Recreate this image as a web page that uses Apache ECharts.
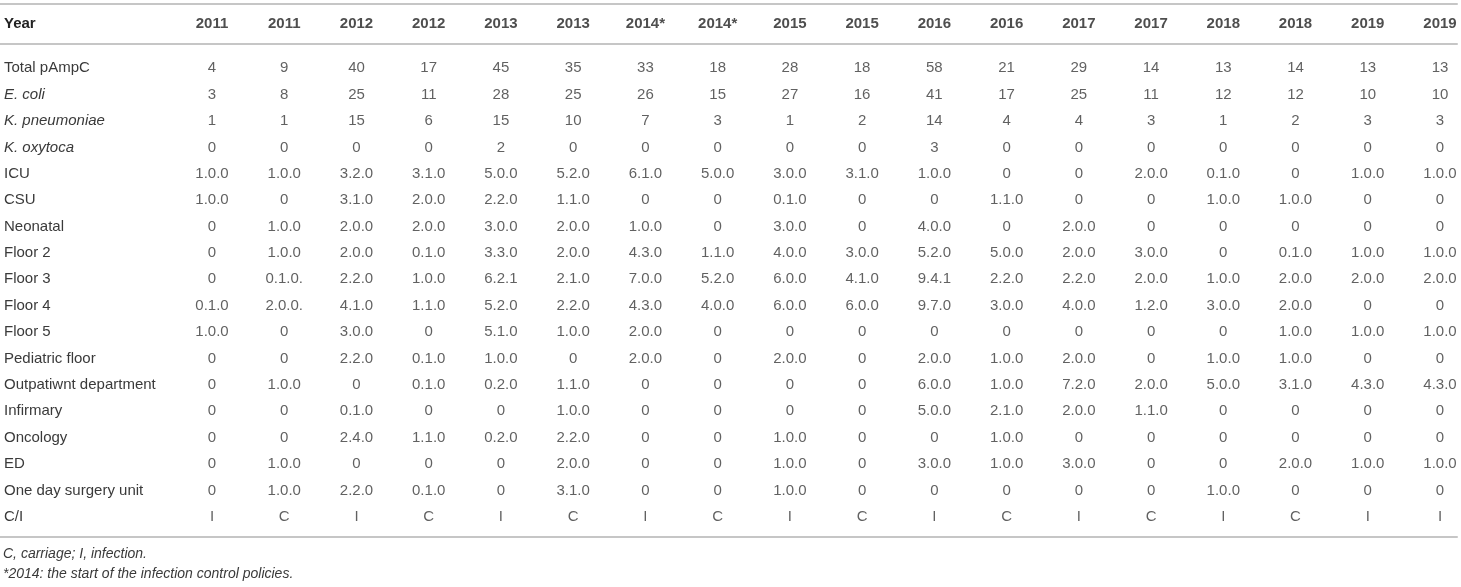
<!DOCTYPE html>
<html>
<head>
<meta charset="utf-8">
<title>pAmpC by ward and year</title>
<script src="https://cdn.jsdelivr.net/npm/echarts@6.0.0/dist/echarts.min.js"></script>
<style>
  html, body { margin: 0; padding: 0; background: #fff; }
  #chart { width: 1461px; height: 587px; }
</style>
</head>
<body>
<div id="chart"></div>
<script>
// column headers (two columns per year)
const columns = ['2011', '2011', '2012', '2012', '2013', '2013', '2014*', '2014*', '2015', '2015',
  '2016', '2016', '2017', '2017', '2018', '2018', '2019', '2019'];

const rowNames = ['Total pAmpC', 'E. coli', 'K. pneumoniae', 'K. oxytoca', 'ICU', 'CSU', 'Neonatal',
  'Floor 2', 'Floor 3', 'Floor 4', 'Floor 5', 'Pediatric floor', 'Outpatiwnt department',
  'Infirmary', 'Oncology', 'ED', 'One day surgery unit', 'C/I'];
const italicRows = ['E. coli', 'K. pneumoniae', 'K. oxytoca'];

// cell values, one array per row
const totalPAmpC = ['4', '9', '40', '17', '45', '35', '33', '18', '28', '18', '58', '21', '29', '14', '13', '14', '13', '13'];
const eColi = ['3', '8', '25', '11', '28', '25', '26', '15', '27', '16', '41', '17', '25', '11', '12', '12', '10', '10'];
const kPneumoniae = ['1', '1', '15', '6', '15', '10', '7', '3', '1', '2', '14', '4', '4', '3', '1', '2', '3', '3'];
const kOxytoca = ['0', '0', '0', '0', '2', '0', '0', '0', '0', '0', '3', '0', '0', '0', '0', '0', '0', '0'];
const icu = ['1.0.0', '1.0.0', '3.2.0', '3.1.0', '5.0.0', '5.2.0', '6.1.0', '5.0.0', '3.0.0', '3.1.0', '1.0.0', '0', '0', '2.0.0', '0.1.0', '0', '1.0.0', '1.0.0'];
const csu = ['1.0.0', '0', '3.1.0', '2.0.0', '2.2.0', '1.1.0', '0', '0', '0.1.0', '0', '0', '1.1.0', '0', '0', '1.0.0', '1.0.0', '0', '0'];
const neonatal = ['0', '1.0.0', '2.0.0', '2.0.0', '3.0.0', '2.0.0', '1.0.0', '0', '3.0.0', '0', '4.0.0', '0', '2.0.0', '0', '0', '0', '0', '0'];
const floor2 = ['0', '1.0.0', '2.0.0', '0.1.0', '3.3.0', '2.0.0', '4.3.0', '1.1.0', '4.0.0', '3.0.0', '5.2.0', '5.0.0', '2.0.0', '3.0.0', '0', '0.1.0', '1.0.0', '1.0.0'];
const floor3 = ['0', '0.1.0.', '2.2.0', '1.0.0', '6.2.1', '2.1.0', '7.0.0', '5.2.0', '6.0.0', '4.1.0', '9.4.1', '2.2.0', '2.2.0', '2.0.0', '1.0.0', '2.0.0', '2.0.0', '2.0.0'];
const floor4 = ['0.1.0', '2.0.0.', '4.1.0', '1.1.0', '5.2.0', '2.2.0', '4.3.0', '4.0.0', '6.0.0', '6.0.0', '9.7.0', '3.0.0', '4.0.0', '1.2.0', '3.0.0', '2.0.0', '0', '0'];
const floor5 = ['1.0.0', '0', '3.0.0', '0', '5.1.0', '1.0.0', '2.0.0', '0', '0', '0', '0', '0', '0', '0', '0', '1.0.0', '1.0.0', '1.0.0'];
const pediatric = ['0', '0', '2.2.0', '0.1.0', '1.0.0', '0', '2.0.0', '0', '2.0.0', '0', '2.0.0', '1.0.0', '2.0.0', '0', '1.0.0', '1.0.0', '0', '0'];
const outpatient = ['0', '1.0.0', '0', '0.1.0', '0.2.0', '1.1.0', '0', '0', '0', '0', '6.0.0', '1.0.0', '7.2.0', '2.0.0', '5.0.0', '3.1.0', '4.3.0', '4.3.0'];
const infirmary = ['0', '0', '0.1.0', '0', '0', '1.0.0', '0', '0', '0', '0', '5.0.0', '2.1.0', '2.0.0', '1.1.0', '0', '0', '0', '0'];
const oncology = ['0', '0', '2.4.0', '1.1.0', '0.2.0', '2.2.0', '0', '0', '1.0.0', '0', '0', '1.0.0', '0', '0', '0', '0', '0', '0'];
const ed = ['0', '1.0.0', '0', '0', '0', '2.0.0', '0', '0', '1.0.0', '0', '3.0.0', '1.0.0', '3.0.0', '0', '0', '2.0.0', '1.0.0', '1.0.0'];
const oneDaySurgery = ['0', '1.0.0', '2.2.0', '0.1.0', '0', '3.1.0', '0', '0', '1.0.0', '0', '0', '0', '0', '0', '1.0.0', '0', '0', '0'];
const carriageInfection = ['I', 'C', 'I', 'C', 'I', 'C', 'I', 'C', 'I', 'C', 'I', 'C', 'I', 'C', 'I', 'C', 'I', 'I'];

const cellRows = [totalPAmpC, eColi, kPneumoniae, kOxytoca, icu, csu, neonatal, floor2, floor3, floor4,
  floor5, pediatric, outpatient, infirmary, oncology, ed, oneDaySurgery, carriageInfection];

const footnotes = ['C, carriage; I, infection.', '*2014: the start of the infection control policies.'];

window.onload = function() {
	const FONT = "'Liberation Sans', Arial, sans-serif";
	const TEXT = '#3a3a3a';
	const RULE = '#c6c6c6';
	const SIZE = 15;
	// x scale: first column centre at 212px, last at 1440px, rules run 0..1457px
	const firstX = 212, lastX = 1440, ruleEnd = 1457;
	const unit = (lastX - firstX) / (columns.length - 1);
	const xMin = -firstX / unit;
	const xMax = (columns.length - 1) + (ruleEnd - lastX) / unit;

	function ruleAxis(gridIndex, position, offset) {
		return {
			type: 'value', gridIndex: gridIndex, position: position, offset: offset || 0,
			min: xMin, max: xMax,
			axisLine: { show: true, lineStyle: { color: RULE, width: 2 } },
			axisTick: { show: false }, axisLabel: { show: false }, splitLine: { show: false }
		};
	}

	// header row
	let headerData = columns.map(function(c, i) {
		return { value: [i, 0], name: c };
	});
	// body cells
	let cellData = [];
	cellRows.forEach(function(row, r) {
		row.forEach(function(v, i) {
			cellData.push({ value: [i, r], name: v });
		});
	});

	let chart = echarts.init(document.getElementById('chart'));
	let option = {
		animation: false,
		backgroundColor: '#fff',
		textStyle: { fontFamily: FONT },
		title: footnotes.map(function(t, k) {
			return {
				text: t, left: 3, top: 547 + k * 20, padding: 0,
				textStyle: { fontFamily: FONT, fontStyle: 'italic', fontWeight: 'normal', fontSize: 14, color: TEXT }
			};
		}),
		grid: [
			{ left: 0, right: 1461 - ruleEnd, top: 4, height: 40 },
			{ left: 0, right: 1461 - ruleEnd, top: 55, height: 475 }
		],
		xAxis: [
			ruleAxis(0, 'top'),      // top rule
			ruleAxis(0, 'bottom'),   // rule under header
			ruleAxis(1, 'bottom', 7) // bottom rule
		],
		yAxis: [
			{
				type: 'category', gridIndex: 0, data: ['Year'],
				axisLine: { show: false }, axisTick: { show: false }, splitLine: { show: false },
				axisLabel: { inside: true, margin: 4, align: 'left', fontFamily: FONT, fontSize: SIZE, fontWeight: 'bold', color: '#222' }
			},
			{
				type: 'category', gridIndex: 1, data: rowNames, inverse: true,
				axisLine: { show: false }, axisTick: { show: false }, splitLine: { show: false },
				axisLabel: {
					inside: true, margin: 4, align: 'left', fontFamily: FONT, fontSize: SIZE, color: TEXT,
					formatter: function(v) {
						return italicRows.indexOf(v) >= 0 ? '{it|' + v + '}' : v;
					},
					rich: { it: { fontFamily: FONT, fontSize: SIZE, fontStyle: 'italic', color: TEXT } }
				}
			}
		],
		series: [
			{
				type: 'scatter', xAxisIndex: 1, yAxisIndex: 0, symbolSize: 0, silent: true,
				data: headerData,
				label: { show: true, position: 'inside', formatter: '{b}', fontFamily: FONT, fontSize: SIZE, fontWeight: 'bold', color: '#222' }
			},
			{
				type: 'scatter', xAxisIndex: 2, yAxisIndex: 1, symbolSize: 0, silent: true,
				data: cellData,
				label: { show: true, position: 'inside', formatter: '{b}', fontFamily: FONT, fontSize: SIZE, color: TEXT }
			}
		]
	};
	chart.setOption(option);
};
</script>
</body>
</html>
